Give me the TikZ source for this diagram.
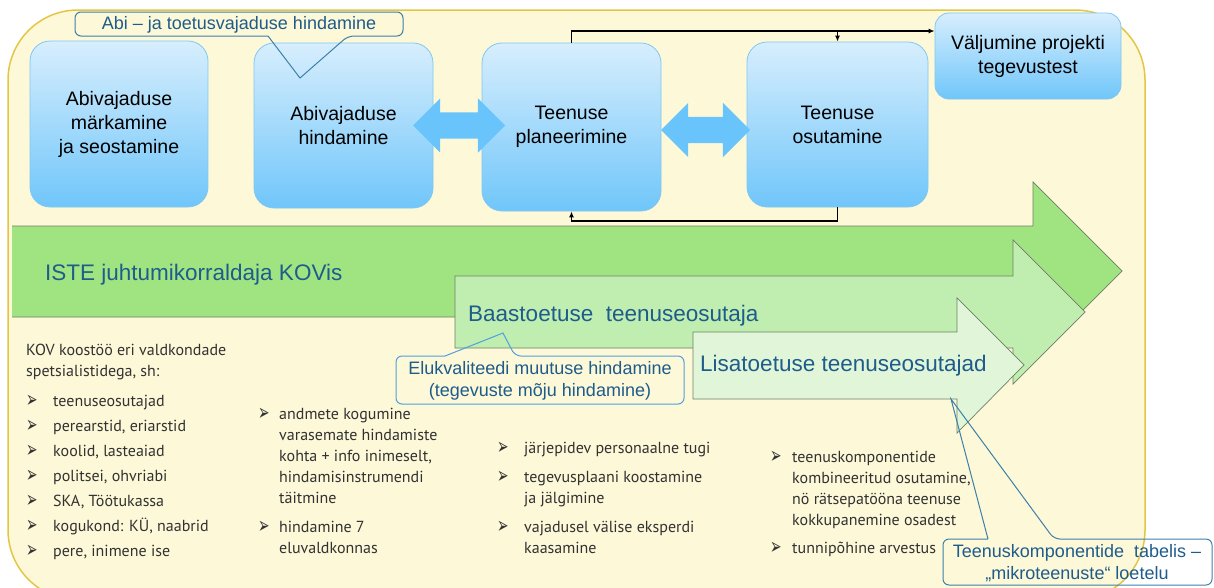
\documentclass[tikz,border=0pt]{standalone}
\usepackage{fontspec}
\usepackage{graphicx}
\setmainfont{Liberation Sans}
\newfontfamily\listfont{PT Sans}
\newfontfamily\symfont{DejaVu Sans}
\usetikzlibrary{arrows.meta,positioning,shapes.arrows}
\definecolor{creambg}{RGB}{253,248,216}
\definecolor{goldline}{RGB}{228,198,70}
\definecolor{boxtop}{RGB}{215,238,253}
\definecolor{boxbot}{RGB}{112,198,250}
\definecolor{boxline}{RGB}{128,200,242}
\definecolor{arrblue}{RGB}{104,196,250}
\definecolor{grdark}{RGB}{160,228,130}
\definecolor{grmid}{RGB}{192,237,176}
\definecolor{grlight}{RGB}{225,246,216}
\definecolor{grline}{RGB}{110,128,100}
\definecolor{tealtxt}{RGB}{30,92,140}
\definecolor{callblue}{RGB}{60,128,170}
\definecolor{calllight}{RGB}{78,160,224}
\definecolor{listgrey}{RGB}{50,50,50}
\newcommand{\bul}{\raisebox{-1pt}{\scalebox{0.65}[1.1]{\symfont\fontsize{21}{21}\selectfont ➢}}}

\begin{document}
\begin{tikzpicture}[x=1pt,y=-1pt,
  stage/.style={draw=boxline,line width=0.8pt,rounded corners=20pt,top color=boxtop,bottom color=boxbot,
                align=center,font=\fontsize{19.5}{24}\selectfont,inner sep=2pt},
  twoway/.style={double arrow,fill=arrblue,draw=none,inner xsep=0pt,inner ysep=13pt,
                 double arrow head extend=14pt},
  flow/.style={-{Latex[length=6pt,width=5pt]},line width=1.2pt,black},
  band/.style={fill=#1,draw=grline,line width=0.7pt},
  bandtxt/.style={anchor=west,text=tealtxt,font=\fontsize{22.5}{26}\selectfont,inner sep=0pt},
  calloutline/.style={draw=#1,line width=1pt,rounded corners=6pt},
  calltxt/.style={text=tealtxt,align=center,font=\fontsize{18}{22}\selectfont,inner sep=0pt},
  bullets/.style={anchor=base west,inner sep=0pt,text=listgrey,font=\listfont\fontsize{16}{21}\selectfont}]

\clip (0,0) rectangle (1214,587);
\draw[fill=creambg,draw=goldline,line width=1.5pt,rounded corners=70pt] (8,10) rectangle (1145,600);

% the three levels of support, widest first
\path[band=grdark] (12,226) -- (1033,226) -- (1033,182) -- (1122,271) -- (1033,360) -- (1033,317) -- (12,317);
\path[band=grmid] (455,276) -- (1013,276) -- (1013,240) -- (1085,312) -- (1013,384) -- (1013,348) -- (455,348) -- cycle;
\path[band=grlight] (693,332) -- (957,332) -- (957,298) -- (1024,365) -- (957,433) -- (957,399) -- (693,399) -- cycle;

\node[bandtxt] (iste) at (45,275) {ISTE juhtumikorraldaja KOVis};
\node[bandtxt] (baas) at (468,316) {Baastoetuse\ \ teenuseosutaja};
\node[bandtxt] (lisa) at (700,366) {Lisatoetuse teenuseosutajad};

\node[stage,minimum width=178pt,minimum height=166pt] (b1) at (119,124) {Abivajaduse\\märkamine\\ja seostamine};
\node[stage,minimum width=179pt,minimum height=165pt] (b2) at (343.5,125.5) {Abivajaduse\\hindamine};
\node[stage,minimum width=179pt,minimum height=168pt] (b3) at (571.5,127) {Teenuse\\planeerimine};
\node[stage,minimum width=181pt,minimum height=165pt] (b4) at (837.5,124.5) {Teenuse\\osutamine};
\node[stage,minimum width=186pt,minimum height=86pt,rounded corners=14pt] (ex) at (1028,56) {Väljumine projekti\\tegevustest};

\node[twoway,minimum height=92pt] (a23) at (459,125.5) {};
\node[twoway,minimum height=89pt] (a34) at (705.5,130) {};

\coordinate (lineTop) at (0,31);
\coordinate (lineBot) at (0,221);
\draw[flow] (b3.north) |- (lineTop -| ex.west);
\draw[flow] (lineTop -| b4.north) -- (b4.north);
\draw[flow] (b4.south) |- (lineBot -| b3.south) -- (b3.south);

% callouts: pointer base left open, tip kept sharp
\draw[calloutline=callblue] (268,36) -| (75,12) -| (403,36) -- (348,36) {[sharp corners] -- (300,78) -- (268,36)};
\node[calltxt] (abi) at (239,25) {Abi – ja toetusvajaduse hindamine};

\draw[calloutline=calllight] (445,356) -| (396,404) -| (684,356) -- (515,356) {[sharp corners] -- (503,333) -- (445,356)};
\node[calltxt] (elu) at (540,381) {Elukvaliteedi\ muutuse hindamine\\(tegevuste\ mõju hindamine)};

\draw[calloutline=callblue] (988,539) -| (943,585) -| (1212,539) -- (1054,539) {[sharp corners] -- (951,399) -- (988,539)};
\node[calltxt] (mikro) at (1077,563) {Teenuskomponentide\ \ tabelis –\\„mikroteenuste“ loetelu};

\node[bullets] (kov) at (26,355) {\begin{tabular}[t]{@{}p{27pt}@{}l@{}}
  \multicolumn{2}{@{}l@{}}{KOV koostöö eri valdkondade}\\
  \multicolumn{2}{@{}l@{}}{spetsialistidega, sh:}\\[9pt]
  \bul & teenuseosutajad\\[4pt]
  \bul & perearstid, eriarstid\\[4pt]
  \bul & koolid, lasteaiad\\[4pt]
  \bul & politsei, ohvriabi\\[4pt]
  \bul & SKA, Töötukassa\\[4pt]
  \bul & kogukond: KÜ, naabrid\\[4pt]
  \bul & pere, inimene ise
\end{tabular}};

\node[bullets] (hind) at (258,419) {\begin{tabular}[t]{@{}p{21pt}@{}l@{}}
  \bul & andmete kogumine\\
       & varasemate hindamiste\\
       & kohta + info inimeselt,\\
       & hindamisinstrumendi\\
       & täitmine\\[8pt]
  \bul & hindamine 7\\
       & eluvaldkonnas
\end{tabular}};

\node[bullets] (plan) at (497,453) {\begin{tabular}[t]{@{}p{27pt}@{}l@{}}
  \bul & järjepidev personaalne tugi\\[8pt]
  \bul & tegevusplaani koostamine\\
       & ja jälgimine\\[8pt]
  \bul & vajadusel välise eksperdi\\
       & kaasamine
\end{tabular}};

\node[bullets] (osut) at (770,462) {\begin{tabular}[t]{@{}p{22pt}@{}l@{}}
  \bul & teenuskomponentide\\
       & kombineeritud osutamine,\\
       & nö rätsepatööna teenuse\\
       & kokkupanemine osadest\\[7pt]
  \bul & tunnipõhine arvestus
\end{tabular}};
\end{tikzpicture}
\end{document}
